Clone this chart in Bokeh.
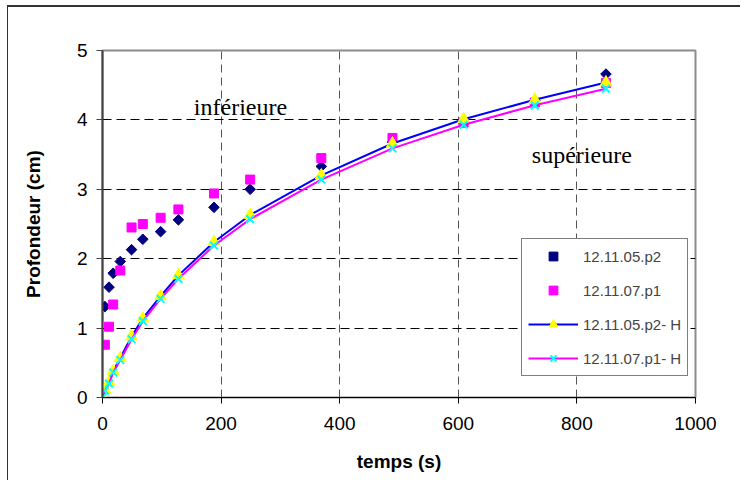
import math
from bokeh.plotting import figure
from bokeh.models import Range1d, FixedTicker, Legend, LegendItem, Label
from bokeh.embed import file_html
from bokeh.resources import INLINE

# ---- data ----
t_meas = [4, 11, 18, 30, 49, 68, 98, 128, 188, 249, 369, 489, 609, 729, 849]
depth_p2 = [1.31, 1.59, 1.79, 1.96, 2.13, 2.28, 2.39, 2.56, 2.74, 3.00, 3.33, 3.68, 4.00, 4.28, 4.66]
depth_p1 = [0.76, 1.02, 1.34, 1.83, 2.45, 2.50, 2.59, 2.71, 2.94, 3.14, 3.45, 3.74, 3.96, 4.25, 4.53]

t_model = [0, 4, 11, 18, 30, 49, 68, 98, 128, 188, 249, 369, 489, 609, 729, 849]
model_p2 = [0, 0.11, 0.22, 0.38, 0.57, 0.88, 1.14, 1.46, 1.76, 2.24, 2.63, 3.20, 3.66, 4.01, 4.29, 4.54]
model_p1 = [0, 0.10, 0.20, 0.36, 0.54, 0.84, 1.10, 1.42, 1.71, 2.19, 2.57, 3.14, 3.59, 3.93, 4.21, 4.45]

x_ticks = [0, 200, 400, 600, 800, 1000]
y_ticks = [0, 1, 2, 3, 4, 5]
series_names = ["12.11.05.p2", "12.11.07.p1", "12.11.05.p2- H", "12.11.07.p1- H"]

FONT = "Liberation Sans"
SERIF = "Liberation Serif"

p = figure(width=733, height=475, output_backend="svg", toolbar_location=None,
           x_range=Range1d(0, 1000), y_range=Range1d(0, 5),
           min_border_left=94, min_border_top=43, min_border_right=46, min_border_bottom=85,
           background_fill_color="white", border_fill_color="white",
           styles={"border-top": "2px solid #333333", "border-left": "1px solid #333333",
                   "margin-top": "5px", "margin-left": "7px"})

p.outline_line_color = "#8c8c8c"
p.outline_line_width = 2

# axes
p.xaxis.ticker = FixedTicker(ticks=x_ticks)
p.yaxis.ticker = FixedTicker(ticks=y_ticks)
p.xaxis.minor_tick_line_color = None
p.yaxis.minor_tick_line_color = None
for ax in (p.xaxis, p.yaxis):
    ax.major_tick_in = 0
    ax.major_tick_out = 6
    ax.major_label_text_font = FONT
    ax.major_label_text_font_size = "19px"
    ax.major_label_text_color = "black"
    ax.axis_label_text_font = FONT
    ax.axis_label_text_font_size = "19px"
    ax.axis_label_text_font_style = "bold"
    ax.axis_label_text_color = "black"
p.xaxis.axis_line_color = "black"
p.xaxis.major_tick_line_color = "black"
p.yaxis.axis_line_color = "#444444"
p.yaxis.axis_line_width = 2
p.yaxis.major_tick_line_color = "#444444"
p.xaxis.major_label_standoff = 13
p.yaxis.major_label_standoff = 9
p.xaxis.axis_label = "temps (s)"
p.yaxis.axis_label = "Profondeur (cm)"
p.xaxis.axis_label_standoff = 18
p.yaxis.axis_label_standoff = 30

# grids
p.xgrid.ticker = FixedTicker(ticks=x_ticks[1:-1])
p.ygrid.ticker = FixedTicker(ticks=y_ticks[1:-1])
p.xgrid.grid_line_color = "#555555"
p.xgrid.grid_line_dash = "8 5"
p.ygrid.grid_line_color = "black"
p.ygrid.grid_line_dash = "9 5"

# series
r1 = p.scatter(t_meas, depth_p2, marker="square", angle=math.pi / 4, size=7.5,
               fill_color="#000080", line_color="#000080")
r2 = p.scatter(t_meas, depth_p1, marker="square", size=9,
               fill_color="#ff00ff", line_color="#ff00ff")
r3l = p.line(t_model, model_p2, line_color="#0000ff", line_width=2)
r3m = p.scatter(t_model, model_p2, marker="triangle", size=12,
                fill_color="#ffff00", line_color="#ffff00")
r4l = p.line(t_model, model_p1, line_color="#ff00ff", line_width=2)
r4m = p.scatter(t_model, model_p1, marker="x", size=11, line_color="#00ffff", line_width=2)

# annotations
p.add_layout(Label(x=154, y=4.18, text="inférieure", text_font=SERIF,
                   text_font_size="24px", text_color="black", text_baseline="alphabetic"))
p.add_layout(Label(x=724, y=3.50, text="supérieure", text_font=SERIF,
                   text_font_size="24px", text_color="black", text_baseline="alphabetic"))

legend = Legend(items=[
    LegendItem(label=series_names[0], renderers=[r1]),
    LegendItem(label=series_names[1], renderers=[r2]),
    LegendItem(label=series_names[2], renderers=[r3l, r3m]),
    LegendItem(label=series_names[3], renderers=[r4l, r4m]),
], location=(419, 21), padding=6, spacing=12, glyph_width=50, glyph_height=22,
    label_standoff=5, label_text_font=FONT, label_text_font_size="15px",
    border_line_color="black", border_line_width=1,
    background_fill_color="white", background_fill_alpha=1.0, margin=0)
p.add_layout(legend)

open("out.html", "w").write(file_html(p, INLINE))
